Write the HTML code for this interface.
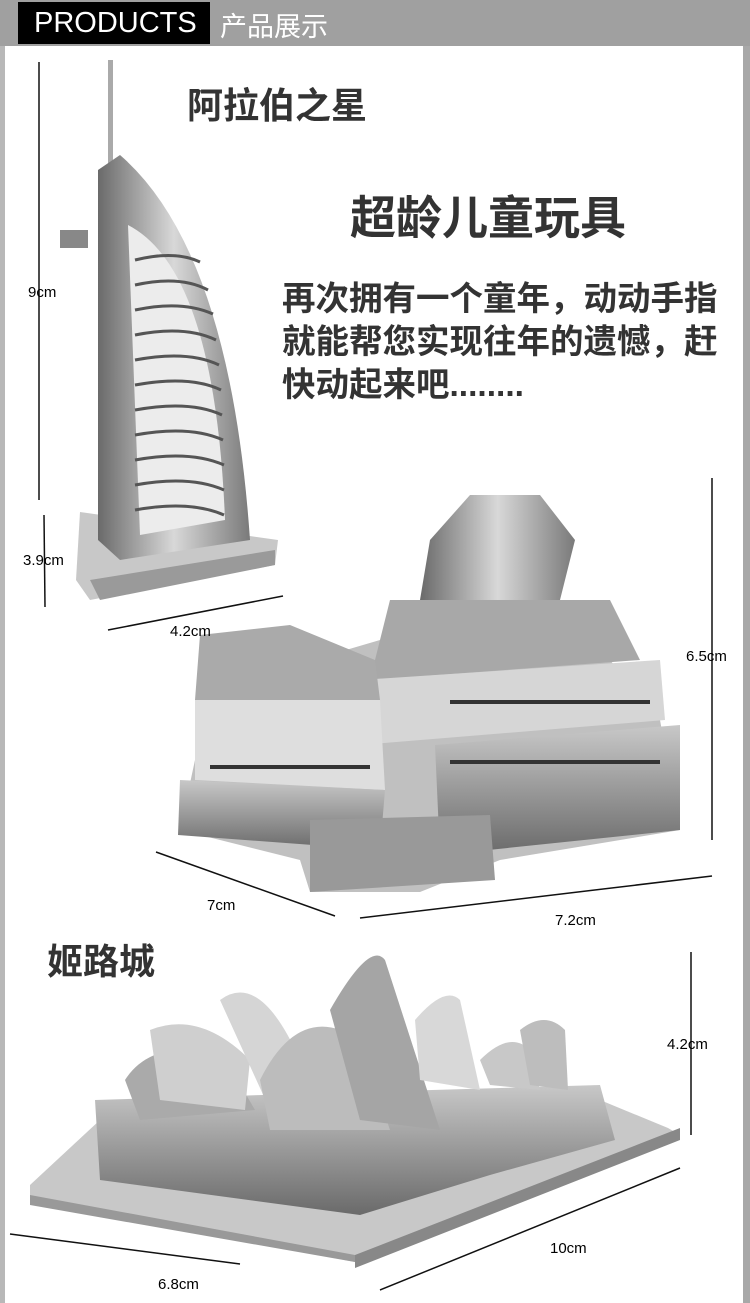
<!DOCTYPE html>
<html><head><meta charset="utf-8"><style>
body{margin:0;width:750px;height:1303px;overflow:hidden;background:#fff;position:relative;font-family:"Liberation Sans","Noto Sans CJK SC",sans-serif}
.t{position:absolute;white-space:nowrap}
</style></head><body>
<svg width="750" height="1303" style="position:absolute;left:0;top:0">
<defs>
<linearGradient id="m" x1="0" x2="1"><stop offset="0" stop-color="#6a6a6a"/><stop offset=".5" stop-color="#d8d8d8"/><stop offset="1" stop-color="#7a7a7a"/></linearGradient>
<linearGradient id="v" x1="0" y1="0" x2="0" y2="1"><stop offset="0" stop-color="#c8c8c8"/><stop offset="1" stop-color="#6a6a6a"/></linearGradient>
</defs>
<rect x="0" y="0" width="750" height="46" fill="#a0a0a0"/>
<rect x="18" y="2" width="192" height="42" fill="#000"/>
<rect x="0" y="46" width="5" height="1257" fill="#b8b8b8"/>
<rect x="743" y="46" width="7" height="1257" fill="#a8a8a8"/>
<g stroke="#111" stroke-width="1.5">
<line x1="39" y1="62" x2="39" y2="500"/><line x1="44" y1="515" x2="45" y2="607"/>
<line x1="108" y1="630" x2="283" y2="596"/>
<line x1="712" y1="478" x2="712" y2="840"/>
<line x1="156" y1="852" x2="335" y2="916"/><line x1="360" y1="918" x2="712" y2="876"/>
<line x1="691" y1="952" x2="691" y2="1135"/>
<line x1="10" y1="1234" x2="240" y2="1264"/><line x1="380" y1="1290" x2="680" y2="1168"/>
</g>
<polygon points="80,512 278,540 275,565 90,600 76,580" fill="#c8c8c8"/>
<polygon points="90,580 275,550 275,565 100,600" fill="#9a9a9a"/>
<rect x="108" y="60" width="5" height="110" fill="#aaa"/>
<path d="M98,170 L120,155 Q230,250 250,540 L120,560 L98,540 Z" fill="url(#m)"/>
<path d="M128,225 Q215,270 225,520 L140,535 Z" fill="#ececec"/>
<g stroke="#555" stroke-width="3" fill="none">
<path d="M135,260 Q175,250 200,262"/><path d="M135,285 Q180,275 208,290"/><path d="M135,310 Q182,300 213,314"/><path d="M135,335 Q185,325 216,340"/><path d="M135,360 Q188,350 219,365"/><path d="M135,385 Q190,375 221,390"/><path d="M135,410 Q190,400 222,415"/><path d="M135,435 Q190,425 223,440"/><path d="M135,460 Q190,450 224,465"/><path d="M135,485 Q190,475 224,490"/><path d="M135,510 Q190,500 224,515"/>
</g>
<rect x="60" y="230" width="28" height="18" fill="#888"/>
<polygon points="180,830 210,690 380,640 560,600 660,720 680,830 500,860 420,892 310,892 300,860" fill="#c0c0c0"/>
<polygon points="430,540 470,495 540,495 575,540 560,600 420,600" fill="url(#m)"/>
<polygon points="390,600 610,600 640,660 370,680" fill="#a8a8a8"/>
<polygon points="360,680 660,660 665,720 360,745" fill="#d6d6d6"/>
<polygon points="435,745 680,725 680,830 440,855" fill="url(#v)"/>
<polygon points="200,635 290,625 375,660 380,700 195,700" fill="#aaa"/>
<polygon points="195,700 380,700 385,790 195,780" fill="#dedede"/>
<polygon points="180,780 385,790 380,850 178,835" fill="url(#v)"/>
<polygon points="310,820 490,815 495,880 310,892" fill="#999"/>
<g fill="#333"><rect x="450" y="760" width="210" height="4"/><rect x="210" y="765" width="160" height="4"/><rect x="450" y="700" width="200" height="4"/></g>
<polygon points="30,1185 100,1120 600,1100 668,1128 680,1135 355,1262 30,1200" fill="#c8c8c8"/>
<polygon points="30,1195 355,1255 355,1262 30,1205" fill="#999"/>
<polygon points="355,1255 680,1128 680,1140 355,1268" fill="#888"/>
<polygon points="95,1100 600,1085 615,1140 490,1175 360,1215 100,1180" fill="url(#v)"/>
<path d="M125,1080 Q150,1040 220,1050 L255,1110 L140,1120 Z" fill="#aaa"/>
<path d="M150,1030 Q200,1010 250,1060 L245,1110 L160,1100 Z" fill="#cfcfcf"/>
<path d="M220,1000 Q260,970 300,1060 L270,1110 Z" fill="#d5d5d5"/>
<path d="M260,1080 Q300,1000 360,1040 L390,1130 L270,1130 Z" fill="#bcbcbc"/>
<path d="M330,1010 Q370,940 385,960 L440,1130 L360,1120 Z" fill="#a5a5a5"/>
<path d="M415,1020 Q445,985 460,1000 L480,1090 L420,1080 Z" fill="#d8d8d8"/>
<path d="M480,1060 Q510,1030 530,1050 L540,1090 L490,1085 Z" fill="#c8c8c8"/>
<path d="M520,1030 Q545,1010 565,1030 L568,1090 L530,1085 Z" fill="#bdbdbd"/>
</svg>
<div class="t" style="left:34px;top:5px;font-size:29px;color:#fff;line-height:36px">PRODUCTS</div>
<div class="t" style="left:220px;top:9px;font-size:27px;color:#fff;line-height:36px">产品展示</div>
<div class="t" style="left:187px;top:84px;font-size:36px;line-height:44px;font-weight:bold;color:#333">阿拉伯之星</div>
<div class="t" style="left:350px;top:190px;font-size:46px;line-height:56px;font-weight:bold;color:#333">超龄儿童玩具</div>
<div class="t" style="left:282px;top:278px;font-size:33.5px;font-weight:bold;color:#333;line-height:43px">再次拥有一个童年，动动手指<br>就能帮您实现往年的遗憾，赶<br>快动起来吧........</div>
<div class="t" style="left:47px;top:940px;font-size:36px;line-height:44px;font-weight:bold;color:#333">姬路城</div>
<div class="t" style="left:28px;top:284px;font-size:15px">9cm</div>
<div class="t" style="left:23px;top:552px;font-size:15px">3.9cm</div>
<div class="t" style="left:170px;top:623px;font-size:15px">4.2cm</div>
<div class="t" style="left:686px;top:648px;font-size:15px">6.5cm</div>
<div class="t" style="left:207px;top:897px;font-size:15px">7cm</div>
<div class="t" style="left:555px;top:912px;font-size:15px">7.2cm</div>
<div class="t" style="left:667px;top:1036px;font-size:15px">4.2cm</div>
<div class="t" style="left:550px;top:1240px;font-size:15px">10cm</div>
<div class="t" style="left:158px;top:1276px;font-size:15px">6.8cm</div>
</body></html>
